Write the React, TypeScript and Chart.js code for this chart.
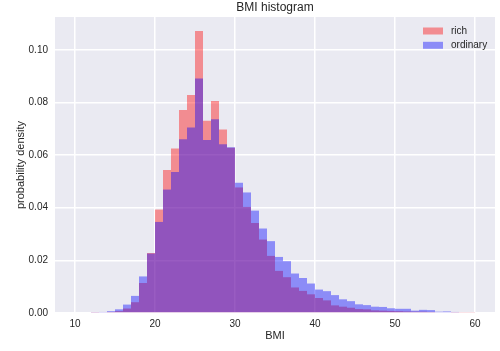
import React, { useEffect, useRef } from "react";
import { Chart, registerables } from "chart.js";

Chart.register(...registerables);

// Left edges of the 1-unit wide BMI bins
const bmiBins = [
  12, 13, 14, 15, 16, 17, 18, 19, 20, 21, 22, 23, 24, 25, 26, 27, 28, 29, 30, 31, 32, 33, 34, 35,
  36, 37, 38, 39, 40, 41, 42, 43, 44, 45, 46, 47, 48, 49, 50, 51, 52, 53, 54, 55, 56, 57, 58, 59,
];

const richDensity = [
  0.0002, 0.0003, 0.0004, 0.0007, 0.0017, 0.0041, 0.0114, 0.0228, 0.0393, 0.0543, 0.0625, 0.0771,
  0.0828, 0.1071, 0.073, 0.0805, 0.0697, 0.0628, 0.0477, 0.0403, 0.0342, 0.0279, 0.0217, 0.016,
  0.0136, 0.0097, 0.0084, 0.0071, 0.0057, 0.0048, 0.0029, 0.0024, 0.002, 0.0015, 0.0014, 0.001,
  0.0009, 0.0008, 0.0007, 0.0006, 0.0005, 0.0005, 0.0004, 0.0003, 0.0003, 0.0002, 0.0002, 0.0002,
];

const ordinaryDensity = [
  0.0002, 0.0004, 0.0007, 0.0014, 0.0032, 0.0065, 0.0139, 0.0226, 0.0346, 0.0469, 0.0536, 0.066,
  0.0705, 0.0891, 0.0657, 0.0736, 0.0641, 0.063, 0.0495, 0.0458, 0.0389, 0.0321, 0.0273, 0.0213,
  0.0197, 0.015, 0.0133, 0.0112, 0.0089, 0.0083, 0.0068, 0.0052, 0.0045, 0.0033, 0.003, 0.0024,
  0.0023, 0.0018, 0.0016, 0.0016, 0.0009, 0.0012, 0.0011, 0.0005, 0.0006, 0.0004, 0.0003, 0.0003,
];

const seriesLabels = ["rich", "ordinary"];
const seriesColors = ["rgba(255,0,0,0.4)", "rgba(0,0,255,0.4)"];
const xTicks = [10, 20, 30, 40, 50, 60];
const yTicks = [0, 0.02, 0.04, 0.06, 0.08, 0.1];
const titleText = "BMI histogram";
const xLabel = "BMI";
const yLabel = "probability density";
const histRange = [10, 60];

const FONT = "'Liberation Sans', Arial, sans-serif";
const TEXT = "#262626";
const BG = "#EAEAF2";

export default function App() {
  const ref = useRef<HTMLCanvasElement>(null);

  useEffect(() => {
    document.body.style.margin = "0";
    const canvas = ref.current;
    if (!canvas) return;

    const xPad = (histRange[1] - histRange[0]) * 0.05;
    const yMax = Math.max(...richDensity, ...ordinaryDensity) * 1.05;

    const toPoints = (vals: number[]) =>
      bmiBins.map((b, i) => ({ x: b + 0.5, y: vals[i] }));

    const stylePlugin = {
      id: "mplStyle",
      beforeDraw(chart: any) {
        const { ctx, chartArea: a } = chart;
        ctx.save();
        ctx.fillStyle = "#ffffff";
        ctx.fillRect(0, 0, chart.width, chart.height);
        ctx.fillStyle = BG;
        ctx.fillRect(a.left, a.top, a.right - a.left, a.bottom - a.top);
        ctx.restore();
      },
      afterDraw(chart: any) {
        const { ctx, chartArea: a } = chart;
        ctx.save();
        ctx.fillStyle = TEXT;
        ctx.font = `12px ${FONT}`;
        ctx.textAlign = "center";
        ctx.textBaseline = "alphabetic";
        ctx.fillText(titleText, (a.left + a.right) / 2, 11);

        // legend (upper right, frameless)
        ctx.font = `10px ${FONT}`;
        ctx.textAlign = "left";
        ctx.textBaseline = "middle";
        chart.data.datasets.forEach((ds: any, i: number) => {
          const y = 27.5 + i * 14.3;
          ctx.fillStyle = BG;
          ctx.fillRect(423, y, 20, 7);
          ctx.fillStyle = ds.backgroundColor;
          ctx.fillRect(423, y, 20, 7);
          ctx.fillStyle = TEXT;
          ctx.fillText(ds.label, 451, y + 3.5);
        });
        ctx.restore();
      },
    };

    const chart = new Chart(canvas, {
      type: "bar",
      data: {
        datasets: [
          {
            label: seriesLabels[0],
            data: toPoints(richDensity),
            backgroundColor: seriesColors[0],
            borderWidth: 0,
            order: 1,
          },
          {
            label: seriesLabels[1],
            data: toPoints(ordinaryDensity),
            backgroundColor: seriesColors[1],
            borderWidth: 0,
            order: 0,
          },
        ],
      },
      options: {
        responsive: false,
        devicePixelRatio: 1,
        animation: false,
        layout: { padding: { top: 17, right: 5, left: 0, bottom: 0 } },
        datasets: {
          bar: {
            grouped: false,
            barPercentage: 1,
            categoryPercentage: 1,
            inflateAmount: 0,
          } as any,
        },
        plugins: {
          legend: { display: false },
          title: { display: false },
          tooltip: { enabled: false },
        },
        scales: {
          x: {
            type: "linear",
            offset: false,
            min: histRange[0] - xPad,
            max: histRange[1] + xPad,
            afterBuildTicks: (s: any) => {
              s.ticks = xTicks.map((v) => ({ value: v }));
            },
            afterFit: (s: any) => {
              s.height = 38;
            },
            grid: { color: "#ffffff", lineWidth: 1.5, drawTicks: false, offset: false },
            border: { display: false },
            ticks: {
              color: TEXT,
              font: { family: FONT, size: 10 },
              padding: 5,
              maxRotation: 0,
              callback: (v: any) => String(v),
            },
            title: {
              display: true,
              text: xLabel,
              color: TEXT,
              font: { family: FONT, size: 11 },
              padding: { top: 0, bottom: 8 },
            },
          },
          y: {
            type: "linear",
            min: 0,
            max: yMax,
            afterBuildTicks: (s: any) => {
              s.ticks = yTicks.map((v) => ({ value: v }));
            },
            afterFit: (s: any) => {
              s.width = 55;
            },
            grid: { color: "#ffffff", lineWidth: 1.5, drawTicks: false },
            border: { display: false },
            ticks: {
              color: TEXT,
              font: { family: FONT, size: 10 },
              padding: 7,
              callback: (v: any) => Number(v).toFixed(2),
            },
            title: {
              display: true,
              text: yLabel,
              color: TEXT,
              font: { family: FONT, size: 11 },
              padding: { top: 14, bottom: 0 },
            },
          },
        },
      },
      plugins: [stylePlugin],
    } as any);

    return () => chart.destroy();
  }, []);

  return <canvas ref={ref} width={500} height={351} style={{ display: "block" }} />;
}
